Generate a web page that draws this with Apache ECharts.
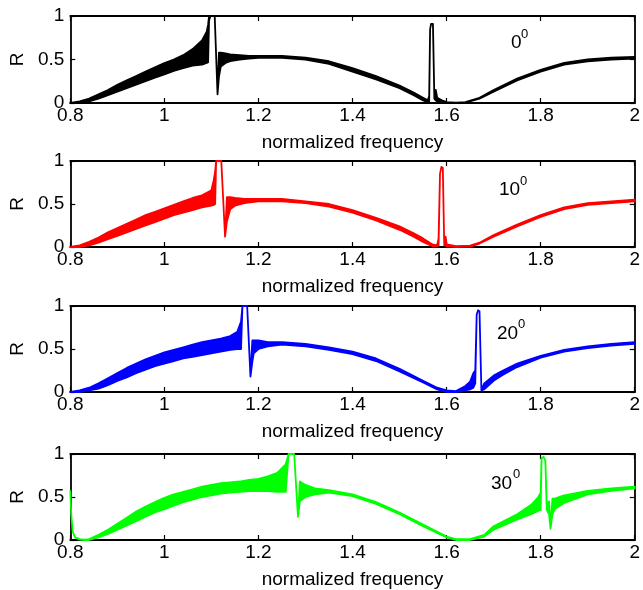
<!DOCTYPE html>
<html>
<head>
<meta charset="utf-8">
<script src="https://cdn.jsdelivr.net/npm/echarts@6/dist/echarts.min.js"></script>
<style>
  html, body { margin: 0; padding: 0; background: #fff; }
  #chart { width: 643px; height: 590px; }
</style>
</head>
<body>
<div id="chart"></div>
<script>
// 0 deg : frequency, lower / upper edge of the oscillating trace
var freq0 = [0.80, 0.82, 0.84, 0.86, 0.88, 0.90, 0.92, 0.94, 0.96, 0.98, 1.00, 1.02, 1.04, 1.06, 1.08, 1.09, 1.093, 1.095, 1.098, 1.103, 1.107, 1.113, 1.116, 1.12, 1.13, 1.14, 1.16, 1.18, 1.20, 1.25, 1.30, 1.35, 1.40, 1.45, 1.50, 1.53, 1.55, 1.56, 1.563, 1.565, 1.567, 1.571, 1.574, 1.577, 1.58, 1.59, 1.60, 1.62, 1.64, 1.67, 1.70, 1.75, 1.80, 1.85, 1.90, 1.95, 2.00];
var low0  = [0, 0, 0.02, 0.05, 0.09, 0.13, 0.17, 0.21, 0.25, 0.29, 0.33, 0.37, 0.40, 0.43, 0.44, 0.46, 0.47, 0.95, 1, 1, 1, 0.10, 0.30, 0.42, 0.46, 0.48, 0.50, 0.51, 0.52, 0.52, 0.50, 0.45, 0.36, 0.27, 0.17, 0.09, 0.03, 0.01, 0.01, 0.85, 0.91, 0.91, 0.05, 0.03, 0.02, 0.01, 0, 0, 0.005, 0.05, 0.13, 0.26, 0.36, 0.44, 0.48, 0.50, 0.51];
var high0 = [0, 0.02, 0.05, 0.10, 0.15, 0.21, 0.26, 0.31, 0.36, 0.41, 0.46, 0.50, 0.55, 0.62, 0.72, 0.82, 0.90, 1.0, 1, 1, 1, 0.10, 0.58, 0.58, 0.57, 0.56, 0.55, 0.54, 0.54, 0.54, 0.52, 0.48, 0.40, 0.31, 0.20, 0.12, 0.06, 0.03, 0.08, 0.85, 0.91, 0.91, 0.05, 0.15, 0.06, 0.03, 0.01, 0.005, 0.01, 0.06, 0.15, 0.28, 0.38, 0.46, 0.50, 0.52, 0.53];

// 10 deg
var freq10 = [0.80, 0.82, 0.84, 0.86, 0.88, 0.90, 0.92, 0.94, 0.96, 0.98, 1.00, 1.02, 1.04, 1.06, 1.08, 1.10, 1.105, 1.108, 1.11, 1.121, 1.129, 1.133, 1.14, 1.15, 1.17, 1.20, 1.25, 1.30, 1.35, 1.40, 1.45, 1.50, 1.53, 1.55, 1.57, 1.58, 1.583, 1.586, 1.589, 1.592, 1.595, 1.598, 1.60, 1.62, 1.65, 1.67, 1.70, 1.75, 1.80, 1.85, 1.90, 1.95, 2.00];
var low10  = [0, 0, 0.02, 0.05, 0.09, 0.13, 0.17, 0.21, 0.25, 0.29, 0.33, 0.37, 0.40, 0.43, 0.46, 0.48, 0.49, 0.50, 1, 1, 0.12, 0.30, 0.44, 0.48, 0.51, 0.53, 0.53, 0.51, 0.47, 0.40, 0.31, 0.20, 0.12, 0.06, 0.01, 0.01, 0.02, 0.85, 0.93, 0.92, 0.02, 0.02, 0.01, 0, 0.005, 0.04, 0.12, 0.24, 0.35, 0.44, 0.49, 0.51, 0.53];
var high10 = [0, 0.02, 0.06, 0.11, 0.17, 0.22, 0.27, 0.32, 0.37, 0.41, 0.45, 0.49, 0.53, 0.57, 0.60, 0.66, 0.78, 0.88, 1, 1, 0.12, 0.58, 0.58, 0.57, 0.56, 0.56, 0.56, 0.53, 0.50, 0.43, 0.34, 0.24, 0.16, 0.10, 0.03, 0.02, 0.10, 0.85, 0.93, 0.92, 0.02, 0.12, 0.03, 0.01, 0.015, 0.05, 0.14, 0.26, 0.37, 0.46, 0.51, 0.53, 0.55];

// 20 deg
var freq20 = [0.80, 0.82, 0.84, 0.86, 0.88, 0.90, 0.92, 0.94, 0.96, 0.98, 1.00, 1.02, 1.04, 1.06, 1.08, 1.10, 1.12, 1.14, 1.155, 1.163, 1.166, 1.176, 1.183, 1.187, 1.19, 1.20, 1.22, 1.25, 1.30, 1.35, 1.40, 1.45, 1.50, 1.55, 1.58, 1.60, 1.62, 1.64, 1.65, 1.657, 1.661, 1.664, 1.667, 1.670, 1.674, 1.68, 1.70, 1.72, 1.75, 1.80, 1.85, 1.90, 1.95, 2.00];
var low20  = [0, 0, 0.02, 0.04, 0.08, 0.13, 0.17, 0.22, 0.26, 0.30, 0.33, 0.36, 0.39, 0.41, 0.43, 0.45, 0.47, 0.49, 0.50, 0.50, 1, 1, 0.18, 0.35, 0.45, 0.50, 0.53, 0.55, 0.53, 0.49, 0.44, 0.36, 0.24, 0.11, 0.03, 0, 0, 0.02, 0.03, 0.05, 0.10, 0.90, 0.95, 0.94, 0.02, 0.03, 0.13, 0.20, 0.29, 0.40, 0.47, 0.51, 0.54, 0.56];
var high20 = [0, 0.02, 0.05, 0.10, 0.16, 0.22, 0.28, 0.33, 0.38, 0.42, 0.46, 0.49, 0.52, 0.55, 0.58, 0.60, 0.62, 0.65, 0.70, 0.82, 1, 1, 0.18, 0.60, 0.60, 0.60, 0.58, 0.58, 0.56, 0.52, 0.47, 0.39, 0.27, 0.13, 0.05, 0.02, 0.01, 0.07, 0.12, 0.22, 0.25, 0.90, 0.95, 0.94, 0.02, 0.10, 0.19, 0.25, 0.33, 0.42, 0.49, 0.53, 0.56, 0.58];

// 30 deg
var freq30 = [0.800, 0.802, 0.805, 0.81, 0.82, 0.83, 0.84, 0.86, 0.88, 0.90, 0.92, 0.94, 0.96, 0.98, 1.00, 1.02, 1.04, 1.06, 1.08, 1.10, 1.12, 1.14, 1.16, 1.18, 1.20, 1.22, 1.24, 1.258, 1.264, 1.276, 1.284, 1.288, 1.30, 1.32, 1.35, 1.40, 1.45, 1.50, 1.55, 1.60, 1.62, 1.65, 1.68, 1.70, 1.75, 1.78, 1.795, 1.80, 1.802, 1.806, 1.81, 1.813, 1.818, 1.821, 1.825, 1.83, 1.85, 1.90, 1.95, 2.00];
var low30  = [0.57, 0.30, 0.10, 0.03, 0.005, 0, 0, 0.03, 0.07, 0.12, 0.17, 0.22, 0.27, 0.32, 0.36, 0.40, 0.44, 0.47, 0.50, 0.52, 0.54, 0.55, 0.56, 0.57, 0.57, 0.57, 0.56, 0.56, 1, 1, 0.27, 0.45, 0.50, 0.53, 0.55, 0.51, 0.42, 0.30, 0.16, 0.03, 0, 0, 0.04, 0.12, 0.24, 0.30, 0.34, 0.35, 0.95, 0.97, 0.92, 0.35, 0.30, 0.13, 0.30, 0.36, 0.43, 0.53, 0.57, 0.60];
var high30 = [0.57, 0.30, 0.10, 0.03, 0.01, 0.005, 0.01, 0.06, 0.12, 0.19, 0.26, 0.33, 0.39, 0.44, 0.49, 0.53, 0.56, 0.59, 0.62, 0.64, 0.66, 0.67, 0.68, 0.70, 0.71, 0.74, 0.78, 0.88, 1, 1, 0.27, 0.68, 0.64, 0.60, 0.58, 0.53, 0.44, 0.32, 0.18, 0.04, 0.01, 0.01, 0.06, 0.16, 0.30, 0.41, 0.50, 0.55, 0.95, 0.97, 0.92, 0.40, 0.45, 0.13, 0.48, 0.48, 0.52, 0.57, 0.60, 0.62];

var angles = ["0", "10", "20", "30"];
var xTicks = { min: 0.8, max: 2, interval: 0.2 };
var yTicks = { min: 0, max: 1, interval: 0.5 };

var panels = [
  { f: freq0, lo: low0, hi: high0, color: "#000000", top: 16, height: 87, label: [511, 43, 521, 35] },
  { f: freq10, lo: low10, hi: high10, color: "#ff0000", top: 161, height: 86, label: [499, 190, 520, 182] },
  { f: freq20, lo: low20, hi: high20, color: "#0000ff", top: 306, height: 86, label: [497, 334, 518, 325] },
  { f: freq30, lo: low30, hi: high30, color: "#00ff00", top: 454, height: 87, label: [491, 484, 513, 475] }
];

var font = "Liberation Sans, Arial, sans-serif";

// draws the dense oscillation as a filled band between lower and upper edge
function bandRender(p) {
  return function (params, api) {
    if (params.dataIndex !== 0) {
      return null;
    }
    var pts = [];
    for (var i = 0; i < p.f.length; i++) {
      pts.push(api.coord([p.f[i], p.hi[i]]));
    }
    for (var j = p.f.length - 1; j >= 0; j--) {
      pts.push(api.coord([p.f[j], p.lo[j]]));
    }
    return {
      type: "polygon",
      shape: { points: pts },
      style: { fill: p.color, stroke: p.color, lineWidth: 1.8, lineJoin: "round" }
    };
  };
}

var grid = [], xAxis = [], yAxis = [], series = [], graphic = [];
var axisLine = { show: true, onZero: false, lineStyle: { color: "#000", width: 1.8 } };
var tick = { show: true, inside: true, length: 5, lineStyle: { color: "#000", width: 1.2 } };

for (var k = 0; k < panels.length; k++) {
  var p = panels[k];
  grid.push({ left: 70, right: 8, top: p.top, height: p.height });
  // bottom + top x axes
  xAxis.push({
    type: "value", gridIndex: k, position: "bottom",
    min: xTicks.min, max: xTicks.max, interval: xTicks.interval,
    name: "normalized frequency", nameLocation: "middle", nameGap: 30,
    nameTextStyle: { fontFamily: font, fontSize: 19, color: "#000" },
    axisLine: axisLine, axisTick: tick, splitLine: { show: false },
    axisLabel: { fontFamily: font, fontSize: 19, color: "#000", margin: 3 }
  });
  xAxis.push({
    type: "value", gridIndex: k, position: "top",
    min: xTicks.min, max: xTicks.max, interval: xTicks.interval,
    axisLine: axisLine, axisTick: tick, splitLine: { show: false },
    axisLabel: { show: false }
  });
  // left + right y axes
  yAxis.push({
    type: "value", gridIndex: k, position: "left",
    min: yTicks.min, max: yTicks.max, interval: yTicks.interval,
    name: "R", nameLocation: "middle", nameRotate: 90, nameGap: 42,
    nameTextStyle: { fontFamily: font, fontSize: 19, color: "#000" },
    axisLine: axisLine, axisTick: tick, splitLine: { show: false },
    axisLabel: { fontFamily: font, fontSize: 19, color: "#000", margin: 6 }
  });
  yAxis.push({
    type: "value", gridIndex: k, position: "right",
    min: yTicks.min, max: yTicks.max, interval: yTicks.interval,
    axisLine: axisLine, axisTick: tick, splitLine: { show: false },
    axisLabel: { show: false }
  });

  var rows = [];
  for (var i = 0; i < p.f.length; i++) {
    rows.push([p.f[i], p.lo[i], p.hi[i]]);
  }
  series.push({
    type: "custom",
    xAxisIndex: k * 2,
    yAxisIndex: k * 2,
    data: rows,
    encode: { x: 0, y: [1, 2] },
    renderItem: bandRender(p),
    silent: true,
    animation: false
  });

  // angle annotation, e.g. 10 with superscript 0
  graphic.push({
    type: "text", left: p.label[0], top: p.label[1] - 10,
    style: { text: angles[k], font: "19px " + font, fill: "#000" }
  });
  graphic.push({
    type: "text", left: p.label[2], top: p.label[3] - 7,
    style: { text: "0", font: "13px " + font, fill: "#000" }
  });
}

var myChart = echarts.init(document.getElementById("chart"));
myChart.setOption({
  animation: false,
  backgroundColor: "#fff",
  grid: grid,
  xAxis: xAxis,
  yAxis: yAxis,
  series: series,
  graphic: graphic
});
</script>
</body>
</html>
